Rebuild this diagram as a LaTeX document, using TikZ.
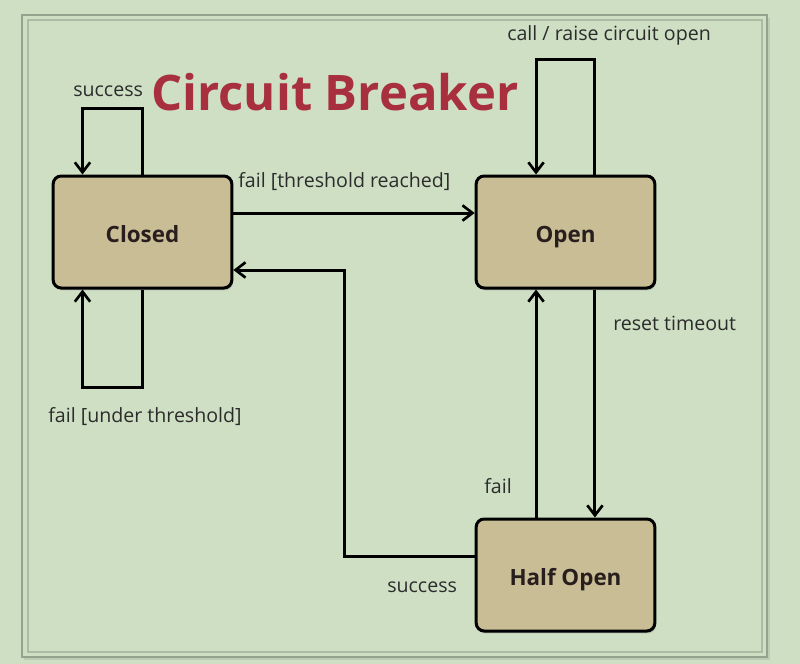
\documentclass[tikz,border=0pt]{standalone}
\usepackage{fontspec}
\setmainfont{Open Sans}
\usetikzlibrary{arrows.meta,shadows,calc}
\definecolor{bgc}{RGB}{206,223,196}
\definecolor{boxc}{RGB}{200,189,148}
\definecolor{titlec}{RGB}{168,48,62}
\definecolor{framec}{RGB}{148,162,142}
\definecolor{frameinc}{RGB}{172,188,164}
\definecolor{labc}{RGB}{44,44,44}
\definecolor{statec}{RGB}{40,30,30}
\begin{document}
\begin{tikzpicture}[x=0.75pt,y=-0.75pt,
  state/.style={draw=black,line width=2.25pt,fill=boxc,rounded corners=6pt,
    minimum width=134pt,minimum height=84pt,inner sep=0pt,
    text height=15pt,text depth=0pt,
    font=\fontsize{16.8pt}{20pt}\selectfont\bfseries,text=statec,
    drop shadow={shadow xshift=0.8pt,shadow yshift=-1.8pt,opacity=0.35}},
  lab/.style={font=\fontsize{14.7pt}{17pt}\selectfont,text=labc,inner sep=0pt,anchor=base west},
  arr/.style={line width=2.25pt,-{Straight Barb[length=7.5pt,width=11.5pt,line width=2pt]}},
  seg/.style={line width=2.25pt}]
\useasboundingbox (0,0) rectangle (800,664);
\fill[bgc] (0,0) rectangle (800,664);
% frame
\fill[black,opacity=0.08] (24,18) rectangle (770,660);
\fill[bgc] (22,15) rectangle (767,657);
\draw[framec,line width=0.9pt] (22,15) rectangle (767,657);
\draw[frameinc,line width=0.9pt] (28,20) rectangle (762,652);
% states
\node[state] (Closed) at (142.5,232) {Closed};
\node[state] (Open) at (565.5,232) {Open};
\node[state] (Half) at (565.5,575) {Half Open};
% title
\node[font=\fontsize{36.75pt}{40pt}\selectfont\bfseries,text=titlec,inner sep=0pt,anchor=base west] (title) at (151,110) {Circuit Breaker};
% connectors
\draw[arr,line join=miter] (Closed.north) -- ++(0,-66) -| ([xshift=-45pt]Closed.north);
\draw[arr,line join=miter] (Closed.south) -- ++(0,98) -| ([xshift=-45pt]Closed.south);
\draw[arr] ([yshift=14.25pt]Closed.east) -- ([yshift=14.25pt]Open.west);
\draw[arr,line join=miter] ([xshift=22.1pt]Open.north) -- ++(0,-115) -| ([xshift=-22.1pt]Open.north);
\draw[arr] ([xshift=22.1pt]Open.south) -- ([xshift=22.1pt]Half.north);
\draw[arr] ([xshift=-22.1pt]Half.north) -- ([xshift=-22.1pt]Open.south);
\coordinate (mid) at (344,400);
\draw[arr,line join=miter] ([yshift=14.25pt]Half.west) -| (mid) |- ([yshift=-28.5pt]Closed.east);
% labels
\node[lab] (l1) at (73,96) {success};
\node[lab] (l2) at (507,40) {call / raise circuit open};
\node[lab] (l3) at (238,187) {fail [threshold reached]};
\node[lab] (l4) at (48,422) {fail [under threshold]};
\node[lab] (l5) at (613,330) {reset timeout};
\node[lab] (l6) at (484,493) {fail};
\node[lab] (l7) at (387,592) {success};
\end{tikzpicture}
\end{document}
